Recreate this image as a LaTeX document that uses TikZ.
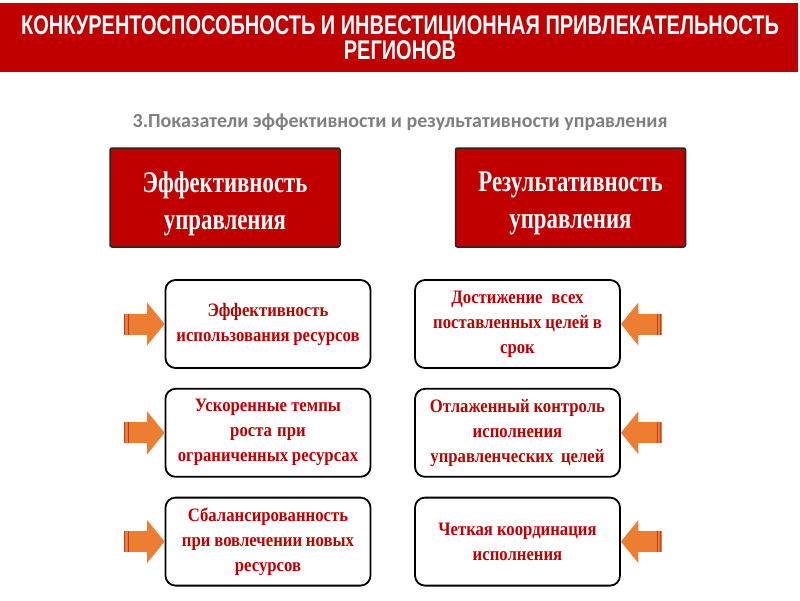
\documentclass[tikz,border=0pt]{standalone}
\usepackage{fontspec}
\setmainfont{Liberation Serif}
\newfontfamily\headfont{Liberation Sans}[FakeStretch=0.74]
\newfontfamily\subfont{Carlito}
\newfontfamily\bigfont{Liberation Serif}[FakeStretch=0.76]
\newfontfamily\itemfont{Liberation Serif}[FakeStretch=0.88]
\usetikzlibrary{positioning}
\definecolor{cred}{HTML}{C00000}
\definecolor{corange}{HTML}{ED7D31}
\definecolor{cstripe}{HTML}{C0392B}
\definecolor{cgrey}{HTML}{7F7F7F}
\tikzset{
  bigbox/.style={draw=black!85, fill=cred, line width=1.5pt, rounded corners=2pt, minimum width=230pt, minimum height=99pt},
  bigtext/.style={align=center, text=white, font=\bigfont\fontsize{30}{37}\selectfont\bfseries},
  itembox/.style={draw=black, fill=white, line width=1.8pt, rounded corners=10pt, minimum width=205pt, minimum height=88pt, text width=190pt, align=center, text=cred, font=\itemfont\fontsize{19}{25}\selectfont\bfseries,
    execute at begin node={\spaceskip=3.6pt plus 1pt minus 1pt\relax}},
  pics/inarrow/.style={code={
    \fill[corange] (-41,-10.5) rectangle (-17,10.5);
    \fill[corange] (-17.5,-21.5) -- (0,0) -- (-17.5,21.5) -- cycle;
    \draw[cstripe, line width=1pt] (-40,-10.5) -- (-40,10.5) (-36.5,-10.5) -- (-36.5,10.5);
  }},
}

\begin{document}
\begin{tikzpicture}[x=1pt, y=-1pt]
  \useasboundingbox (0,0) rectangle (800,600);
  % header
  \fill[cred] (0,3) rectangle (798,72);
  \node[font=\headfont\fontsize{27}{25}\selectfont\bfseries, text=white, align=center] (title) at (400,38)
    {КОНКУРЕНТОСПОСОБНОСТЬ И ИНВЕСТИЦИОННАЯ ПРИВЛЕКАТЕЛЬНОСТЬ\\РЕГИОНОВ};
  \node[font=\subfont\fontsize{20}{24}\selectfont\bfseries, text=cgrey] (sub) at (400,122)
    {3.Показатели эффективности и результативности управления};
  % two headings
  \node[bigbox] (eff) at (225,197.5) {};
  \node[bigtext] (effT) at ([yshift=-6pt]eff.center) {Эффективность\\управления};
  \node[bigbox] (res) at (570.5,197.5) {};
  \node[bigtext] (resT) at ([yshift=-6pt]res.center) {Результативность\\управления};
  % left column
  \node[itembox] (l1) at (268,324) {Эффективность\\использования ресурсов};
  \node[itembox, below=19pt of l1] (l2) {Ускоренные темпы\\роста при\\ограниченных ресурсах};
  \node[itembox, below=19pt of l2] (l3) {Сбалансированность\\при вовлечении новых\\ресурсов};
  % right column
  \node[itembox] (r1) at (517.5,324) {Достижение\ \ всех\\поставленных целей в\\срок};
  \node[itembox, below=19pt of r1] (r2) {Отлаженный контроль\\исполнения\\управленческих\ \ целей};
  \node[itembox, below=19pt of r2] (r3) {Четкая координация\\исполнения};
  % arrows
  \foreach \b in {l1,l2,l3} \pic at (\b.west) {inarrow};
  \foreach \b in {r1,r2,r3} \pic[xscale=-1] at (\b.east) {inarrow};
\end{tikzpicture}
\end{document}
